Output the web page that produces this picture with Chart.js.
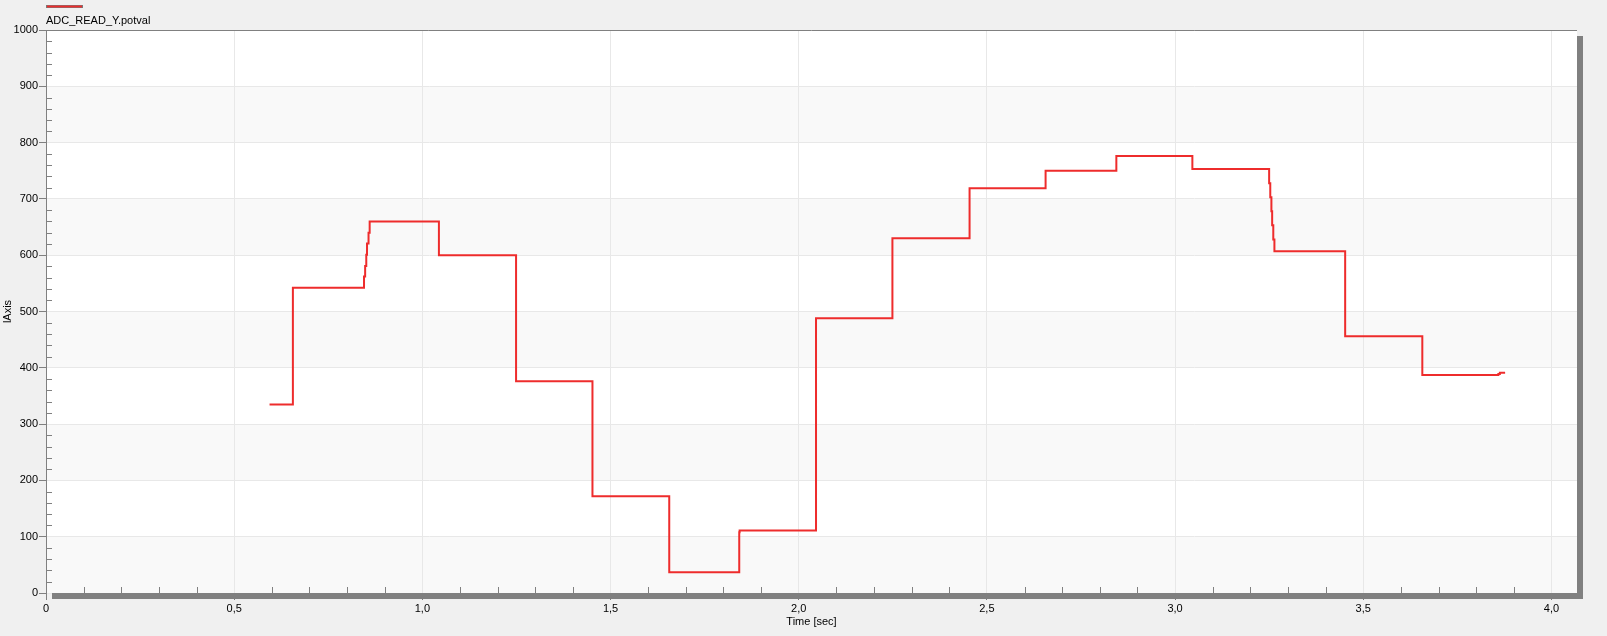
<!DOCTYPE html>
<html>
<head>
<meta charset="utf-8">
<script src="https://cdn.jsdelivr.net/npm/chart.js@4.4.1/dist/chart.umd.min.js"></script>
<style>
html,body{margin:0;padding:0;background:#f0f0f0;}
canvas{display:block;}
</style>
</head>
<body>
<canvas id="c" width="1607" height="636"></canvas>
<script>
// ---- data ----
const seriesName = 'ADC_READ_Y.potval';
const times = [0.594, 0.656, 0.845, 0.848, 0.851, 0.853, 0.857, 0.860, 1.044, 1.249, 1.452, 1.656, 1.842, 1.843,
  2.046, 2.249, 2.454, 2.656, 2.844, 3.046, 3.250, 3.253, 3.256, 3.258, 3.261, 3.264, 3.452, 3.657, 3.859, 3.863, 3.877];
const values = [335, 542, 562, 581, 601, 621, 640, 660, 600, 376, 172, 37, 108, 111,
  488, 630, 719, 750, 776, 753, 728, 703, 678, 653, 628, 607, 456, 387, 389, 391, 391];
const xTicks = [0, 0.5, 1.0, 1.5, 2.0, 2.5, 3.0, 3.5, 4.0];
const xTickLabels = ['0', '0,5', '1,0', '1,5', '2,0', '2,5', '3,0', '3,5', '4,0'];
const yTicks = [0, 100, 200, 300, 400, 500, 600, 700, 800, 900, 1000];
const yTickLabels = ['0', '100', '200', '300', '400', '500', '600', '700', '800', '900', '1000'];
const xMinorStep = 0.1;
const yMinorStep = 20;
const xTitle = 'Time [sec]';
const yTitle = 'lAxis';

const points = times.map((t, i) => ({x: t, y: values[i]}));

Chart.defaults.font.family = "'Liberation Sans', Arial, sans-serif";
Chart.defaults.font.size = 11;
Chart.defaults.color = '#000';

const decor = {
  id: 'decor',
  beforeDraw(chart) {
    const ctx = chart.ctx, a = chart.chartArea, ys = chart.scales.y;
    ctx.save();
    ctx.fillStyle = '#f0f0f0';
    ctx.fillRect(0, 0, chart.width, chart.height);
    ctx.fillStyle = '#ffffff';
    ctx.fillRect(a.left, a.top, a.right - a.left, a.bottom - a.top);
    ctx.fillStyle = '#f9f9f9';
    for (let i = 0; i < yTicks.length - 1; i += 2) {
      const y0 = ys.getPixelForValue(yTicks[i]);
      const y1 = ys.getPixelForValue(yTicks[i + 1]);
      ctx.fillRect(a.left, y1, a.right - a.left, y0 - y1);
    }
    ctx.restore();
  },
  afterDraw(chart) {
    const ctx = chart.ctx, a = chart.chartArea, xs = chart.scales.x, ys = chart.scales.y;
    ctx.save();
    // shadow frame
    ctx.fillStyle = '#808080';
    ctx.fillRect(a.right, a.top + 6, 6, a.bottom - a.top);
    ctx.fillRect(a.left + 6, a.bottom, a.right - a.left, 6);
    // top border
    ctx.strokeStyle = '#808080';
    ctx.lineWidth = 1;
    ctx.beginPath();
    ctx.moveTo(a.left, a.top + 0.5);
    ctx.lineTo(a.right, a.top + 0.5);
    ctx.stroke();
    // minor ticks
    ctx.beginPath();
    for (let v = yMinorStep; v < 1000; v += yMinorStep) {
      if (v % 100 === 0) continue;
      const y = Math.round(ys.getPixelForValue(v)) + 0.5;
      ctx.moveTo(a.left, y); ctx.lineTo(a.left + 6, y);
    }
    for (let k = 1; k * xMinorStep < xs.max; k++) {
      if (k % 5 === 0) continue;
      const x = Math.round(xs.getPixelForValue(k * xMinorStep)) + 0.5;
      ctx.moveTo(x, a.bottom); ctx.lineTo(x, a.bottom - 6);
    }
    ctx.stroke();
    // legend
    ctx.fillStyle = '#7a7a7a';
    ctx.fillRect(46, 5, 37, 3);
    ctx.fillStyle = '#ee2c2c';
    ctx.fillRect(47, 5.6, 35, 1.8);
    ctx.fillStyle = '#000';
    ctx.font = "11px 'Liberation Sans', Arial, sans-serif";
    ctx.textBaseline = 'middle';
    ctx.textAlign = 'left';
    ctx.fillText(seriesName, 46, 21);
    // axis titles
    ctx.textAlign = 'center';
    ctx.fillText(xTitle, (a.left + a.right) / 2, 622);
    ctx.translate(8, (a.top + a.bottom) / 2);
    ctx.rotate(-Math.PI / 2);
    ctx.fillText(yTitle, 0, 0);
    ctx.restore();
  }
};

new Chart(document.getElementById('c'), {
  type: 'line',
  data: {
    datasets: [{
      label: seriesName,
      data: points,
      borderColor: '#ee2c2c',
      borderWidth: 2,
      pointRadius: 0,
      stepped: 'before',
      fill: false,
      tension: 0
    }]
  },
  options: {
    responsive: false,
    animation: false,
    events: [],
    layout: {padding: {top: 30, right: 30, left: 0, bottom: 0}},
    plugins: {legend: {display: false}, tooltip: {enabled: false}},
    scales: {
      x: {
        type: 'linear',
        min: 0,
        max: 4.068,
        afterFit(s) { s.height = 43; },
        afterBuildTicks(s) { s.ticks = xTicks.map(v => ({value: v})); },
        ticks: {
          padding: 2,
          maxRotation: 0,
          autoSkip: false,
          callback: (v, i) => xTickLabels[i]
        },
        grid: {color: '#e8e8e8', tickColor: '#808080', tickLength: 7, lineWidth: 1},
        border: {display: false}
      },
      y: {
        type: 'linear',
        min: 0,
        max: 1000,
        afterFit(s) { s.width = 46; },
        afterBuildTicks(s) { s.ticks = yTicks.map(v => ({value: v})); },
        ticks: {
          padding: 1,
          autoSkip: false,
          callback: (v, i) => yTickLabels[i]
        },
        grid: {color: '#e8e8e8', tickColor: '#808080', tickLength: 7, lineWidth: 1},
        border: {display: true, color: '#808080', width: 1}
      }
    }
  },
  plugins: [decor]
});
</script>
</body>
</html>
